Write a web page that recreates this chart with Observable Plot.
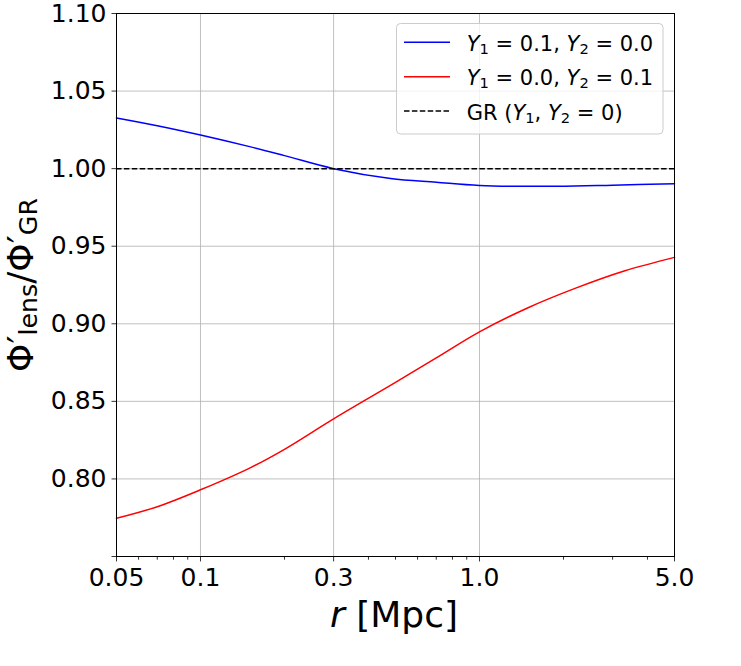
<!DOCTYPE html>
<html>
<head>
<meta charset="utf-8">
<script src="https://cdn.jsdelivr.net/npm/d3@7"></script>
<script src="https://cdn.jsdelivr.net/npm/@observablehq/plot@0.6"></script>
<style>
  html, body { margin: 0; padding: 0; background: #fff; }
  #chart { width: 741px; height: 666px; }
</style>
</head>
<body>
<div id="chart"></div>
<script>
// ---- data ----
const rBlue   = [0.05, 0.07, 0.1, 0.15, 0.2, 0.3, 0.48, 0.7, 1.0, 1.9, 3.0, 5.0];
const phiBlue = [1.0327, 1.0277, 1.0217, 1.0142, 1.0084, 1.0000, 0.9937, 0.9913, 0.9892, 0.9886, 0.9893, 0.9903];

const rRed   = [0.05, 0.07, 0.1, 0.15, 0.2, 0.3, 0.5, 0.7, 1.0, 1.5, 2.2, 3.3, 5.0];
const phiRed = [0.7746, 0.7821, 0.7930, 0.8070, 0.8191, 0.8387, 0.8622, 0.8780, 0.8948, 0.9105, 0.9228, 0.9340, 0.9428];

const grValue = [1.0];

const xDomain = [0.05, 5.0];
const xTicks = [0.05, 0.1, 0.3, 1.0, 5.0];
const xTickLabels = ["0.05", "0.1", "0.3", "1.0", "5.0"];
const xMinorTicks = [0.06, 0.07, 0.08, 0.09, 0.2, 0.4, 0.5, 0.6, 0.7, 0.8, 0.9, 2, 3, 4];
const xGridTicks = [0.1, 0.3, 1.0];
const yDomain = [0.75, 1.10];
const yTicks = [0.75, 0.80, 0.85, 0.90, 0.95, 1.00, 1.05, 1.10];
const yLabelTicks = [0.80, 0.85, 0.90, 0.95, 1.00, 1.05, 1.10];

const seriesNames = ["blue", "red", "gr"];
const seriesColors = ["blue", "red", "black"];

// ---- build tables ----
const blueData = rBlue.map((r, i) => ({r, v: phiBlue[i]}));
const redData = rRed.map((r, i) => ({r, v: phiRed[i]}));
const xTickData = xTicks.map((v, i) => ({v, label: xTickLabels[i]}));

const FONT = "DejaVu Sans";
const TICK = 4.5, PAD = 6.75;

// a plain downward tick for vector marks
const tickDown = {draw(context, l) { context.moveTo(0, 0); context.lineTo(0, l); }};

const chart = Plot.plot({
  width: 741,
  height: 666,
  marginLeft: 116,
  marginRight: 67,
  marginTop: 13,
  marginBottom: 110,
  style: {fontFamily: FONT, background: "#fff", color: "black"},
  x: {type: "log", domain: xDomain, axis: null},
  y: {domain: yDomain},
  marks: [
    Plot.gridX(xGridTicks, {stroke: "#b0b0b0", strokeOpacity: 1, strokeWidth: 0.8}),
    Plot.gridY(yLabelTicks, {stroke: "#b0b0b0", strokeOpacity: 1, strokeWidth: 0.8}),
    Plot.vector(xMinorTicks, {x: (d) => d, frameAnchor: "bottom", length: 2.8, anchor: "start", rotate: 0,
      shape: tickDown, stroke: "black", strokeWidth: 0.8}),
    Plot.vector(xTickData, {x: "v", frameAnchor: "bottom", length: TICK, anchor: "start", rotate: 0,
      shape: tickDown, stroke: "black", strokeWidth: 0.8}),
    Plot.text(xTickData, {x: "v", text: "label", frameAnchor: "bottom", lineAnchor: "top",
      dy: TICK + PAD, fontSize: 25, fill: "black"}),
    Plot.axisY(yTicks, {
      tickSize: TICK, tickPadding: 5.5, fontSize: 25, label: null, strokeWidth: 0.8,
      tickFormat: (d) => yLabelTicks.includes(d) ? d3.format(".2f")(d) : ""
    }),
    Plot.line(blueData, {x: "r", y: "v", stroke: seriesColors[0], strokeWidth: 1.5, curve: "catmull-rom"}),
    Plot.line(redData, {x: "r", y: "v", stroke: seriesColors[1], strokeWidth: 1.5, curve: "catmull-rom"}),
    Plot.ruleY(grValue, {stroke: seriesColors[2], strokeWidth: 1.5, strokeDasharray: "5.5,2.4"}),
    Plot.frame({stroke: "black", strokeWidth: 1})
  ]
});

// ---- rich-text helper (italics / subscripts) ----
function rich(textSel, pieces, size, shift) {
  let cur = 0;
  pieces.forEach(p => {
    const target = p.sub ? shift : 0;
    const ts = textSel.append("tspan").text(p.t);
    if (p.i) ts.attr("font-style", "italic");
    ts.attr("font-size", p.sub ? size * 0.7 : size);
    if (target !== cur) { ts.attr("dy", target - cur); cur = target; }
  });
}

const svg = d3.select(chart);

// x label
const xl = svg.append("text")
  .attr("x", 394).attr("y", 627)
  .attr("text-anchor", "middle")
  .attr("font-family", FONT).attr("fill", "black");
rich(xl, [{t: "r", i: true}, {t: " [Mpc]"}], 36, 0);

// y label
const yl = svg.append("text")
  .attr("transform", "translate(33,285) rotate(-90)")
  .attr("text-anchor", "middle")
  .attr("font-family", FONT).attr("fill", "black");
rich(yl, [
  {t: "Φ′"}, {t: "lens", sub: true}, {t: "/Φ′"}, {t: "GR", sub: true}
], 36, 4);

// legend
const legendLabels = [
  [{t: "Y", i: true}, {t: "1", sub: true}, {t: " = 0.1, "}, {t: "Y", i: true}, {t: "2", sub: true}, {t: " = 0.0"}],
  [{t: "Y", i: true}, {t: "1", sub: true}, {t: " = 0.0, "}, {t: "Y", i: true}, {t: "2", sub: true}, {t: " = 0.1"}],
  [{t: "GR ("}, {t: "Y", i: true}, {t: "1", sub: true}, {t: ", "}, {t: "Y", i: true}, {t: "2", sub: true}, {t: " = 0)"}]
];
const lg = svg.append("g");
lg.append("rect")
  .attr("x", 396.5).attr("y", 23.5).attr("width", 266.5).attr("height", 110.5)
  .attr("rx", 4).attr("fill", "white").attr("fill-opacity", 0.8)
  .attr("stroke", "#cccccc").attr("stroke-width", 1);
const rowLineY = [42.3, 76.7, 111.1];
const rowTextY = [50.7, 85.1, 119.5];
seriesNames.forEach((name, i) => {
  const ln = lg.append("line")
    .attr("x1", 404).attr("x2", 450)
    .attr("y1", rowLineY[i]).attr("y2", rowLineY[i])
    .attr("stroke", seriesColors[i]).attr("stroke-width", 1.5);
  if (name === "gr") ln.attr("stroke-dasharray", "5.5,2.4");
  const tx = lg.append("text")
    .attr("x", 466.7).attr("y", rowTextY[i])
    .attr("text-anchor", "start")
    .attr("font-family", FONT).attr("fill", "black");
  rich(tx, legendLabels[i], 21, 3);
});

document.getElementById("chart").appendChild(chart);
</script>
</body>
</html>
